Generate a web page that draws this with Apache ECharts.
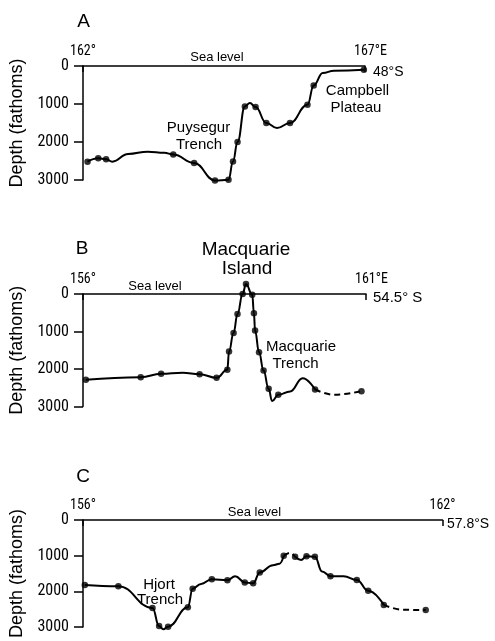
<!DOCTYPE html>
<html><head><meta charset="utf-8">
<script src="https://cdn.jsdelivr.net/npm/echarts@6/dist/echarts.min.js"></script>
<style>html,body{margin:0;padding:0;background:#fff}#c{width:495px;height:641px}</style>
</head><body><div id="c"></div>
<script>
// ---- data ----
const depthTicks = [0, 1000, 2000, 3000];
const aLonRange = [162, 167];
const bLonRange = [156, 161];
const cLonRange = [156, 162];
const aLonTicks = ['162°', '167°E'];
const bLonTicks = ['156°', '161°E'];
const cLonTicks = ['156°', '162°'];
const latLabels = ['48°S', '54.5° S', '57.8°S'];
const panelLetters = ['A', 'B', 'C'];

// Panel A: profile [longitude °E, depth fathoms]
const aProfile = [[162.08,2518],[162.27,2429],[162.41,2455],[162.52,2518],[162.80,2316],[163.15,2255],[163.44,2282],[163.60,2329],[163.97,2555],[164.34,3013],[164.58,2995],[164.66,2511],[164.74,2000],[164.87,1063],[164.96,975],[165.06,1079],[165.25,1500],[165.44,1632],[165.67,1500],[165.98,1018],[166.09,511],[166.25,184],[166.45,124],[166.98,97]];
const aStations = [[162.08,2518],[162.27,2429],[162.41,2455],[163.60,2329],[163.97,2555],[164.34,3013],[164.58,2995],[164.66,2511],[164.74,2000],[164.87,1063],[165.06,1079],[165.25,1500],[165.67,1500],[165.98,1018],[166.09,511],[166.98,97]];

// Panel B
const bProfile = [[156.05,2287],[157.02,2218],[157.38,2128],[157.76,2101],[158.06,2138],[158.36,2234],[158.55,2021],[158.58,1535],[158.66,1037],[158.73,532],[158.82,0],[158.88,-266],[158.99,19],[159.02,516],[159.04,976],[159.11,1553],[159.19,2040],[159.28,2527],[159.34,2856],[159.45,2686],[159.66,2598],[159.88,2245],[160.10,2545]];
const bProfileDashed = [[160.10,2545],[160.44,2686],[160.92,2590]];
const bStations = [[156.05,2287],[157.02,2218],[157.38,2128],[158.06,2138],[158.36,2234],[158.55,2021],[158.58,1535],[158.66,1037],[158.73,532],[158.82,0],[158.88,-266],[158.99,19],[159.02,516],[159.04,976],[159.11,1553],[159.19,2040],[159.28,2527],[159.45,2686],[160.10,2545],[160.92,2590]];

// Panel C
const cProfile1 = [[156.03,1820],[156.59,1855],[157.16,2467],[157.27,2975],[157.34,3062],[157.42,2992],[157.75,2449],[157.83,1925],[157.97,1793],[158.15,1662],[158.41,1688],[158.54,1575],[158.70,1750],[158.84,1777],[158.95,1470],[159.17,1268],[159.28,1226],[159.35,1005]];
const cProfileDashed1 = [[159.35,1005],[159.46,919],[159.54,1031]];
const cProfile2 = [[159.54,1031],[159.64,1121],[159.73,1016],[159.87,1031],[159.99,1444],[160.13,1575],[160.35,1575],[160.57,1680],[160.76,1987],[161.02,2381]];
const cProfileDashed2 = [[161.02,2381],[161.36,2520],[161.72,2528]];
const cStations = [[156.03,1820],[156.59,1855],[157.16,2467],[157.27,2975],[157.42,2992],[157.75,2449],[157.83,1925],[158.15,1662],[158.41,1688],[158.70,1750],[158.84,1777],[158.95,1470],[159.35,1005],[159.54,1031],[159.73,1016],[159.87,1031],[160.13,1575],[160.57,1680],[160.76,1987],[161.02,2381],[161.72,2528]];

// ---- styling ----
const NARROW = "'Liberation Sans Narrow', 'Roboto Condensed', 'DejaVu Sans Condensed', 'Liberation Sans', sans-serif";
const SANS = "'Liberation Sans', Arial, sans-serif";
const grids = [
  {left: 77, top: 66, width: 288, height: 114},
  {left: 77, top: 294, width: 289, height: 112.5},
  {left: 76.5, top: 520, width: 366, height: 114}
];
const ranges = [aLonRange, bLonRange, cLonRange];
const lonTicks = [aLonTicks, bLonTicks, cLonTicks];

const xAxes = ranges.map((r, i) => ({
  gridIndex: i, type: 'value', position: 'top', min: r[0], max: r[1], interval: r[1] - r[0],
  axisLine: {show: true, onZero: false, lineStyle: {color: '#000', width: 1.5}},
  axisTick: {show: true, inside: true, length: 6, lineStyle: {color: '#000', width: 1.5}},
  splitLine: {show: false},
  axisLabel: {
    margin: 8, color: '#000', fontFamily: NARROW, fontSize: 14,
    formatter: v => {
      const t = lonTicks[i][v === r[0] ? 0 : 1];
      return /E$/.test(t) ? '{s|}' + t : t;
    },
    rich: {s: {width: 11}}
  }
}));
const yAxes = grids.map((g, i) => ({
  gridIndex: i, type: 'value', inverse: true,
  min: depthTicks[0], max: depthTicks[depthTicks.length - 1], interval: depthTicks[1] - depthTicks[0],
  axisLine: {show: true, lineStyle: {color: '#000', width: 1.5}},
  axisTick: {show: true, length: 9, lineStyle: {color: '#000', width: 1.5}},
  splitLine: {show: false},
  axisLabel: {margin: 14, color: '#000', fontFamily: NARROW, fontSize: 16, formatter: v => String(v)},
  name: 'Depth (fathoms)', nameLocation: 'middle', nameGap: 57, nameRotate: 90,
  nameTextStyle: {color: '#000', fontFamily: SANS, fontSize: 18, padding: [0, 0, 0, 0]}
}));

function line(data, i, dashed) {
  return {type: 'line', xAxisIndex: i, yAxisIndex: i, data, smooth: 0.45, smoothMonotone: 'x',
    symbol: 'none', clip: false, silent: true,
    lineStyle: {color: '#000', width: 2, type: dashed ? [6, 4] : 'solid'}};
}
function dots(data, i) {
  return {type: 'scatter', xAxisIndex: i, yAxisIndex: i, data, symbol: 'circle', symbolSize: 6.5,
    clip: false, silent: true, itemStyle: {color: '#000'}};
}
function txt(text, x, y, size, family, align) {
  return {type: 'text', x, y, silent: true,
    style: {text, fill: '#000', font: size + 'px ' + family, align: align || 'center', verticalAlign: 'middle',
      textAlign: align || 'center', textVerticalAlign: 'middle'}};
}

const option = {
  animation: false,
  backgroundColor: '#fff',
  grid: grids,
  xAxis: xAxes,
  yAxis: yAxes,
  series: [
    line(aProfile, 0), dots(aStations, 0),
    line(bProfile, 1), line(bProfileDashed, 1, true), dots(bStations, 1),
    line(cProfile1, 2), line(cProfileDashed1, 2, true), line(cProfile2, 2), line(cProfileDashed2, 2, true), dots(cStations, 2)
  ],
  graphic: [
    txt(panelLetters[0], 83.5, 22, 19, SANS),
    txt(panelLetters[1], 82, 249, 19, SANS),
    txt(panelLetters[2], 83, 477, 19, SANS),
    txt('Sea level', 217, 57, 13, SANS),
    txt('Sea level', 155, 286, 13, SANS),
    txt('Sea level', 254.5, 512, 13, SANS),
    txt(latLabels[0], 373, 72, 14, SANS, 'left'),
    txt(latLabels[1], 373, 298, 15, SANS, 'left'),
    txt(latLabels[2], 447, 524, 14, SANS, 'left'),
    txt('Puysegur', 198.5, 128, 15, SANS),
    txt('Trench', 199, 144.5, 15, SANS),
    txt('Campbell', 357.5, 91, 15, SANS),
    txt('Plateau', 356, 108, 15, SANS),
    txt('Macquarie', 246, 250, 19, SANS),
    txt('Island', 247, 268.5, 19, SANS),
    txt('Macquarie', 301, 347, 15, SANS),
    txt('Trench', 295.5, 364, 15, SANS),
    txt('Hjort', 159, 585, 15, SANS),
    txt('Trench', 160, 600, 15, SANS)
  ]
};
const chart = echarts.init(document.getElementById('c'), null, {renderer: 'canvas'});
chart.setOption(option);
</script></body></html>
